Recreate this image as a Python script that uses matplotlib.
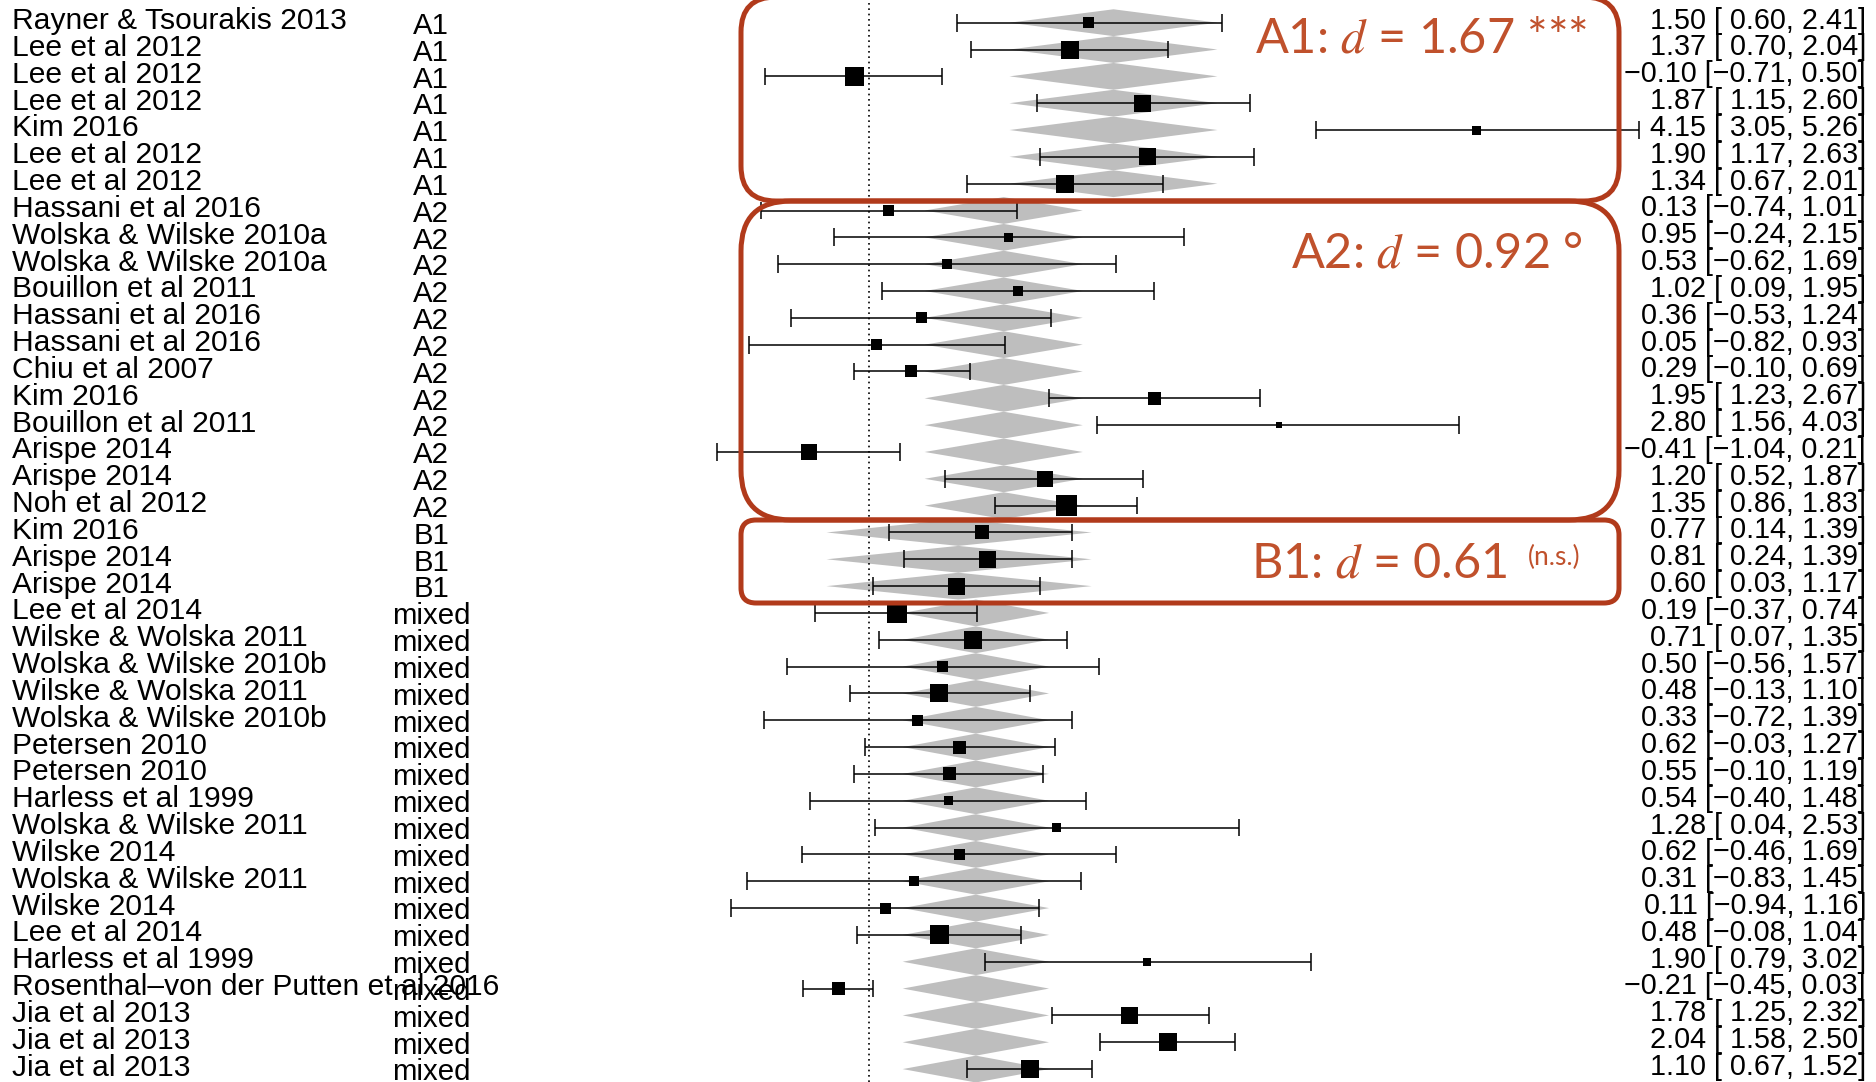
import matplotlib.pyplot as plt
import numpy as np
from matplotlib.patches import FancyBboxPatch, Polygon

plt.rcParams['mathtext.fontset'] = 'stix'

studies = ['Rayner & Tsourakis 2013', 'Lee et al 2012', 'Lee et al 2012', 'Lee et al 2012',
           'Kim 2016', 'Lee et al 2012', 'Lee et al 2012', 'Hassani et al 2016',
           'Wolska & Wilske 2010a', 'Wolska & Wilske 2010a', 'Bouillon et al 2011',
           'Hassani et al 2016', 'Hassani et al 2016', 'Chiu et al 2007', 'Kim 2016',
           'Bouillon et al 2011', 'Arispe 2014', 'Arispe 2014', 'Noh et al 2012',
           'Kim 2016', 'Arispe 2014', 'Arispe 2014', 'Lee et al 2014',
           'Wilske & Wolska 2011', 'Wolska & Wilske 2010b', 'Wilske & Wolska 2011',
           'Wolska & Wilske 2010b', 'Petersen 2010', 'Petersen 2010', 'Harless et al 1999',
           'Wolska & Wilske 2011', 'Wilske 2014', 'Wolska & Wilske 2011', 'Wilske 2014',
           'Lee et al 2014', 'Harless et al 1999', 'Rosenthal\u2013von der Putten et al 2016',
           'Jia et al 2013', 'Jia et al 2013', 'Jia et al 2013']
groups = ['A1'] * 7 + ['A2'] * 12 + ['B1'] * 3 + ['mixed'] * 18
est = [1.50, 1.37, -0.10, 1.87, 4.15, 1.90, 1.34, 0.13, 0.95, 0.53, 1.02, 0.36, 0.05,
       0.29, 1.95, 2.80, -0.41, 1.20, 1.35, 0.77, 0.81, 0.60, 0.19, 0.71, 0.50, 0.48,
       0.33, 0.62, 0.55, 0.54, 1.28, 0.62, 0.31, 0.11, 0.48, 1.90, -0.21, 1.78, 2.04, 1.10]
ci_lo = [0.60, 0.70, -0.71, 1.15, 3.05, 1.17, 0.67, -0.74, -0.24, -0.62, 0.09, -0.53, -0.82,
         -0.10, 1.23, 1.56, -1.04, 0.52, 0.86, 0.14, 0.24, 0.03, -0.37, 0.07, -0.56, -0.13,
         -0.72, -0.03, -0.10, -0.40, 0.04, -0.46, -0.83, -0.94, -0.08, 0.79, -0.45, 1.25, 1.58, 0.67]
ci_hi = [2.41, 2.04, 0.50, 2.60, 5.26, 2.63, 2.01, 1.01, 2.15, 1.69, 1.95, 1.24, 0.93,
         0.69, 2.67, 4.03, 0.21, 1.87, 1.83, 1.39, 1.39, 1.17, 0.74, 1.35, 1.57, 1.10,
         1.39, 1.27, 1.19, 1.48, 2.53, 1.69, 1.45, 1.16, 1.04, 3.02, 0.03, 2.32, 2.50, 1.52]
# relative study weights
weights = [11, 18, 19, 17, 9, 17, 18, 11, 9, 10, 10, 11, 11, 12, 13, 6, 16, 16, 21, 14,
           17, 17, 20, 18, 11, 18, 11, 13, 13, 9, 9, 11, 10, 11, 19, 8, 13, 17, 18, 18]

# subgroup fitted values (grey diamonds)
fit_groups = ['A1', 'A2', 'B1', 'mixed']
fit_est = [1.67, 0.92, 0.61, 0.73]
fit_lo = [0.96, 0.38, -0.29, 0.23]
fit_hi = [2.38, 1.46, 1.52, 1.23]

box_text = ['A1: $d$ = 1.67 ***', 'A2: $d$ = 0.92 \u00b0', 'B1: $d$ = 0.61']

# layout (pixel scale of the panel)
px_x = 146.4   # px per unit of d
px_y = 26.83   # px per row
x0, y0 = 869, 22.7
W, H = 1876, 1082

fig = plt.figure(figsize=(W / 100, H / 100), dpi=100)
ax = fig.add_axes([0, 0, 1, 1])
ax.set_xlim(-x0 / px_x, (W - x0) / px_x)
ax.set_ylim((H - y0) / px_y, -y0 / px_y)
ax.axis('off')

rows = np.arange(len(studies))
est, ci_lo, ci_hi = np.array(est), np.array(ci_lo), np.array(ci_hi)

# grey diamonds for the fitted value of each study's subgroup
for r, g in zip(rows, groups):
    k = fit_groups.index(g)
    ax.add_patch(Polygon([(fit_lo[k], r), (fit_est[k], r - 0.5), (fit_hi[k], r), (fit_est[k], r + 0.5)],
                         closed=True, facecolor='#bebebe', edgecolor='none', zorder=1))

ax.axvline(0, color='black', linestyle=(0, (1, 2.2)), linewidth=1.2, zorder=2)

# confidence intervals
ax.hlines(rows, ci_lo, ci_hi, color='black', linewidth=1.1, zorder=3)
ax.vlines(ci_lo, rows - 0.33, rows + 0.33, color='black', linewidth=1.1, zorder=3)
ax.vlines(ci_hi, rows - 0.33, rows + 0.33, color='black', linewidth=1.1, zorder=3)
ax.scatter(est, rows, marker='s', s=(np.array(weights) * 0.72) ** 2, color='black',
           linewidths=0, zorder=4)

lab_font = 'Liberation Sans'
def fmt(v):
    return f'{v:.2f}'.replace('-', '\u2212')

for r in rows:
    ax.text((12 - x0) / px_x, r + 0.24, studies[r], ha='left', va='baseline',
            fontsize=21.6, family=lab_font, zorder=5)
    ax.text((431 - x0) / px_x, r + 0.42, groups[r], ha='center', va='baseline',
            fontsize=21.2, family=lab_font, zorder=5)
    lo = fmt(ci_lo[r]) if ci_lo[r] < 0 else ' ' + fmt(ci_lo[r])
    ax.text((1866 - x0) / px_x, r + 0.22, f'{fmt(est[r])} [{lo}, {fmt(ci_hi[r])}]',
            ha='right', va='baseline', fontsize=20.7, family=lab_font, zorder=5)

# highlighted subgroup boxes
box_col = '#b13a1b'
txt_col = '#c0512c'
tops = [(-3 - y0) / px_y, (201 - y0) / px_y, (520 - y0) / px_y]
bots = [(201 - y0) / px_y, (520 - y0) / px_y, (603 - y0) / px_y]
radii = [35, 50, 15]
left, right = (741 - x0) / px_x, (1619 - x0) / px_x
for t, b, rad in zip(tops, bots, radii):
    ax.add_patch(FancyBboxPatch((left, t), right - left, b - t,
                                boxstyle=f'round,pad=0,rounding_size={rad / px_x}',
                                mutation_aspect=px_x / px_y, facecolor='none',
                                edgecolor=box_col, linewidth=3.6, zorder=6))

ann_font = 'Lato'
afs = 35
ax.text((1588 - x0) / px_x, (52.7 - y0) / px_y, box_text[0], ha='right', va='baseline',
        fontsize=afs, family=ann_font, color=txt_col, zorder=7)
ax.text((1583 - x0) / px_x, (268 - y0) / px_y, box_text[1], ha='right', va='baseline',
        fontsize=afs, family=ann_font, color=txt_col, zorder=7)
ax.text((1507 - x0) / px_x, (578 - y0) / px_y, box_text[2], ha='right', va='baseline',
        fontsize=afs, family=ann_font, color=txt_col, zorder=7)
ax.text((1528 - x0) / px_x, (565 - y0) / px_y, '(n.s.)', ha='left', va='baseline',
        fontsize=19, family=ann_font, color=txt_col, zorder=7)

fig.savefig('out.png', dpi=100)
